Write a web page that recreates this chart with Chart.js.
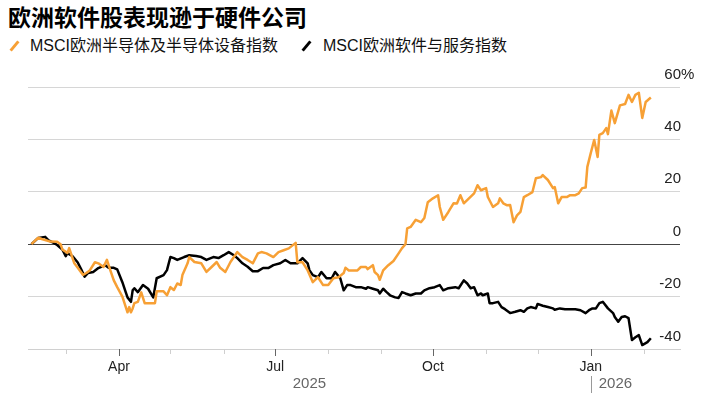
<!DOCTYPE html>
<html lang="zh">
<head>
<meta charset="UTF-8" />
<title>欧洲软件股表现逊于硬件公司</title>
<script src="https://cdn.jsdelivr.net/npm/chart.js"></script>
<style>
  body { margin: 0; background: #fff; }
  #wrap { position: relative; width: 714px; height: 396px; font-family: "Liberation Sans", "Noto Sans CJK SC", sans-serif; }
  #title { position: absolute; left: 8px; top: 5px; font-size: 23px; font-weight: bold; line-height: 26px; color: #000; }
  .item { position: absolute; top: 37px; font-size: 16px; line-height: 18px; color: #111; white-space: nowrap; }
  .item i { position: absolute; top: 3px; width: 3px; height: 12px; transform: rotate(40deg); }
  #chart { position: absolute; left: 0; top: 0; }
</style>
</head>
<body>
<div id="wrap">
  <div id="title">欧洲软件股表现逊于硬件公司</div>
  <div class="item" style="left:30px"><i style="background:#f7a035;left:-17px"></i>MSCI欧洲半导体及半导体设备指数</div>
  <div class="item" style="left:323px"><i style="background:#000;left:-18px"></i>MSCI欧洲软件与服务指数</div>
  <canvas id="chart" width="714" height="396"></canvas>
</div>

<script>
// days counted from 2025-01-01, values = % change
const semiDays = [39,43,45,47,50,54,56,57,60,61, 63,64,66,69,71,73,76,78,81,83, 85,87,89,92,94,95,96,97,98,99,
  101,103,105,109,111,112,116,118,120,122, 124,126,127,130,131,134,138,141,144,147, 149,152,155,159,162,165,168,171,173,176,
  180,183,186,189,193,194,197,200,203,206, 209,212,215,218,221,222,224,227,229,231, 234,235,238,239,241,242,244,247,250,253,
  255,257,258,260,263,266,268,270,273,276, 277,279,282,285,287,289,291,294,297,299, 301,304,305,308,311,312,314,316,318,320,
  322,324,326,328,331,333,336,337,340,343, 344,346,348,351,353,356,358,360,362,363, 365,367,369,370,372,374,375,377,379,382,
  385,387,389,391,393,395,397,400];
const semiValues = [0,2.5,2,1.6,1,0.9,0,-2,-3.3,-1.5, -5.4,-7.3,-9,-11.7,-11,-10,-6.9,-7.3,-8.7,-6, -10,-13.8,-16.4,-20,-24,-26,-24,-26,-24.5,-22.5,
  -22,-18.4,-22.5,-22.5,-22.5,-18,-18,-19.5,-16.4,-17.5, -15,-15.6,-11.8,-7.3,-4.9,-6.8,-7.3,-10.6,-8.7,-6.8, -9,-10.6,-6.8,-3,-4.9,-6,-7.3,-3.5,-3,-3.5,
  -4.9,-3,-2.3,-1.6,0.5,-6.9,-6.9,-10,-14.5,-12.6, -15.6,-15.6,-13,-12.6,-11,-9,-10,-10,-10,-8.7, -8.7,-9.5,-8,-10.6,-11.8,-13.6,-10,-8,-6.4,-3.5,
  -1.5,0,6,6.6,9.3,8.4,10,16,17.5,18.7, 14.2,9.3,12.3,15.6,15.5,18.7,15.6,17.5,19.4,22.5, 20.6,21.4,18,14.2,15.6,17.5,15.6,14.9,15,8.4,
  11,12.3,18,18.7,19.9,25.2,25.6,26.4,24.5,21.4, 21.8,15.6,18,18,18.7,18.7,19.4,21.4,21.6,29.5, 34.8,39.8,33.3,41.7,42.4,44.3,42,51,46.2,53,
  53.5,57,54.3,57,57.8,48.2,54.3,56];

const softDays = [39,43,47,49,52,54,57,59,60,63, 66,68,70,72,75,78,82,84,87,89, 92,94,95,97,98,99,101,104,107,110,
  112,116,118,120,122,124,128,131,135,138, 141,145,148,151,154,157,159,162,165,168, 171,174,177,180,184,187,190,194,197,200,
  201,203,206,208,211,214,216,219,221,223, 225,228,231,234,235,238,241,242,244,246, 248,251,253,255,257,260,263,266,268,271,
  274,277,279,282,286,288,291,293,295,297, 299,301,302,305,306,308,311,313,315,318, 321,324,326,328,330,333,334,337,340,343,
  344,347,350,353,356,359,362,364,366,368, 370,372,375,378,379,381,383,385,387,389, 391,393,395,398,400];
const softValues = [0,2.4,2.8,1.5,0.5,-0.3,-2,-4.6,-3.4,-4.6, -7,-9.6,-12.4,-11,-10.6,-9.1,-8,-9,-9,-9.6, -14.5,-18.4,-20.3,-22,-17.6,-16.8,-18.3,-15.6,-17,-20.3,
  -13,-11.8,-9.9,-4.9,-5.3,-6,-4.9,-4.2,-4.5,-4.9, -6,-4.9,-5.3,-4.2,-3,-4.2,-5.3,-7.3,-8.6,-10.3, -10.3,-9.1,-9.1,-8,-7.3,-6,-7.3,-7.3,-5.3,-7.3,
  -9.9,-11.8,-12.6,-10.6,-13,-13,-10.6,-13,-17.6,-15.6, -15.6,-16.4,-16.4,-17,-16.4,-17,-17.6,-18.8,-17,-18.3, -19.5,-20.3,-20.5,-18.3,-18.8,-19.5,-18.8,-18.8,-17.6,-16.8,
  -16.4,-15.6,-17.6,-16.8,-16.4,-16.8,-13.8,-15,-16.8,-16.4, -19.5,-18.8,-19.5,-18.8,-22.5,-22.5,-22,-24,-24.8,-26.3, -25.8,-25.2,-25.8,-24.5,-24,-24.5,-22.8,-23.5,-24,-24.5,
  -25,-24.5,-24.8,-24.8,-24.8,-25.2,-26.3,-25.2,-24.5,-24.5, -22.5,-22,-24.5,-26.3,-27.8,-29.6,-27.8,-27.5,-28.2,-36.6, -35.5,-34.7,-38.5,-37.4,-35.9];

// axis ticks
const yTicks = [-40, -20, 0, 20, 40, 60];
const monthDays = [59, 90, 120, 151, 181, 212, 243, 273, 304, 334, 365, 396];
const monthLabels = ["", "Apr", "", "", "Jul", "", "", "Oct", "", "", "Jan", ""];
const yearLabels = ["2025", "2026"];

const FONT = '"Liberation Sans", "Noto Sans CJK SC", sans-serif';

const toPoints = (days, vals) => days.map((d, i) => ({ x: d, y: vals[i] }));

// extra axis drawing: tick marks, year row, y labels
const axisExtras = {
  id: "axisExtras",
  afterDraw(chart) {
    const { ctx, chartArea, scales } = chart;
    const xs = scales.x, ys = scales.y;
    ctx.save();
    // month tick marks
    monthDays.forEach((d, i) => {
      const px = Math.round(xs.getPixelForValue(d)) + 0.5;
      const major = monthLabels[i] !== "";
      ctx.strokeStyle = major ? "#666" : "#cfcfcf";
      ctx.lineWidth = 1;
      ctx.beginPath();
      ctx.moveTo(px, chartArea.bottom);
      ctx.lineTo(px, chartArea.bottom + (major ? 7 : 5));
      ctx.stroke();
    });
    // year labels
    const janPx = xs.getPixelForValue(365);
    ctx.font = "15px " + FONT;
    ctx.fillStyle = "#666";
    ctx.textBaseline = "middle";
    ctx.textAlign = "center";
    ctx.fillText(yearLabels[0], (chartArea.left + janPx) / 2, 384);
    ctx.textAlign = "left";
    ctx.fillText(yearLabels[1], janPx + 8, 384);
    ctx.strokeStyle = "#999";
    ctx.beginPath();
    ctx.moveTo(Math.round(janPx) + 0.5, 376);
    ctx.lineTo(Math.round(janPx) + 0.5, 393);
    ctx.stroke();
    // y labels, sitting above their gridline
    ctx.font = "15px " + FONT;
    ctx.fillStyle = "#222";
    ctx.textBaseline = "bottom";
    yTicks.forEach((v, i) => {
      const py = ys.getPixelForValue(v) - 5;
      ctx.textAlign = "right";
      ctx.fillText(String(v), 681, py);
      if (i === yTicks.length - 1) {
        ctx.textAlign = "left";
        ctx.fillText("%", 681, py);
      }
    });
    ctx.restore();
  },
};

new Chart(document.getElementById("chart"), {
  type: "line",
  data: {
    datasets: [
      {
        label: "MSCI欧洲半导体及半导体设备指数",
        data: toPoints(semiDays, semiValues),
        borderColor: "#f7a035",
        borderWidth: 2.5,
        pointRadius: 0,
        tension: 0,
        borderJoinStyle: "round",
      },
      {
        label: "MSCI欧洲软件与服务指数",
        data: toPoints(softDays, softValues),
        borderColor: "#000",
        borderWidth: 2.5,
        pointRadius: 0,
        tension: 0,
        borderJoinStyle: "round",
      },
    ],
  },
  options: {
    responsive: false,
    animation: false,
    devicePixelRatio: 1,
    layout: { padding: { left: 28, top: 87, right: 0, bottom: 0 } },
    plugins: { legend: { display: false }, tooltip: { enabled: false } },
    scales: {
      x: {
        type: "linear",
        min: 37,
        max: 417,
        afterBuildTicks: (s) => { s.ticks = monthDays.map((v) => ({ value: v })); },
        afterFit: (s) => { s.height = 47; },
        ticks: {
          autoSkip: false,
          maxRotation: 0,
          padding: 10,
          color: "#222",
          font: { family: FONT, size: 14 },
          callback: (v, i) => monthLabels[i],
        },
        grid: { drawOnChartArea: false, drawTicks: false },
        border: { color: "#d0d0d0" },
      },
      y: {
        position: "right",
        min: -40,
        max: 60,
        afterBuildTicks: (s) => { s.ticks = yTicks.map((v) => ({ value: v })); },
        afterFit: (s) => { s.width = 34; },
        ticks: { display: false },
        grid: {
          drawTicks: false,
          color: (c) => (c.tick && c.tick.value === 0 ? "#444" : "#d6d6d6"),
        },
        border: { display: false },
      },
    },
  },
  plugins: [axisExtras],
});
</script>
</body>
</html>
